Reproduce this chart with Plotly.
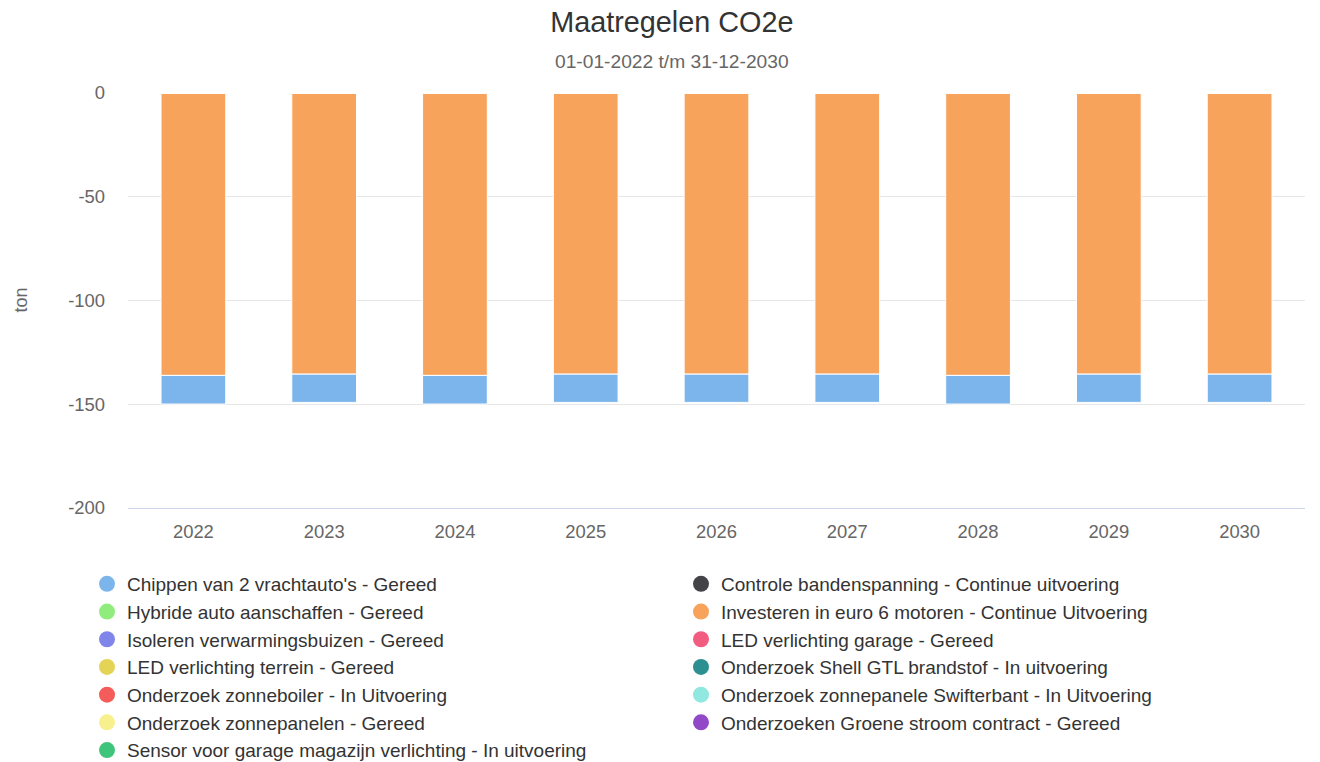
import plotly.graph_objects as go

years = ["2022", "2023", "2024", "2025", "2026", "2027", "2028", "2029", "2030"]

series_names = [
    "Chippen van 2 vrachtauto's - Gereed",
    "Controle bandenspanning - Continue uitvoering",
    "Hybride auto aanschaffen - Gereed",
    "Investeren in euro 6 motoren - Continue Uitvoering",
    "Isoleren verwarmingsbuizen - Gereed",
    "LED verlichting garage - Gereed",
    "LED verlichting terrein - Gereed",
    "Onderzoek Shell GTL brandstof - In uitvoering",
    "Onderzoek zonneboiler - In Uitvoering",
    "Onderzoek zonnepanele Swifterbant - In Uitvoering",
    "Onderzoek zonnepanelen - Gereed",
    "Onderzoeken Groene stroom contract - Gereed",
    "Sensor voor garage magazijn verlichting - In uitvoering",
]
series_colors = [
    "#7cb5ec", "#434348", "#90ed7d", "#f7a35c", "#8085e9", "#f15c80",
    "#e4d354", "#2b908f", "#f45b5b", "#91e8e1", "#f7f08c", "#9149c7", "#3fc47b",
]

chippen = [-13.8, -13.6, -13.8, -13.6, -13.6, -13.6, -13.8, -13.6, -13.6]
investeren = [-136.1, -135.5, -136.1, -135.5, -135.5, -135.5, -136.1, -135.5, -135.5]
zeros = [0, 0, 0, 0, 0, 0, 0, 0, 0]

series_values = [chippen, zeros, zeros, investeren] + [zeros] * 9

y_tick_values = [0, -50, -100, -150, -200]
y_tick_labels = ["0", "-50", "-100", "-150", "-200"]

FONT = "Liberation Sans, Arial, Helvetica, sans-serif"

fig = go.Figure()

# bars: reversed order so first series lies farthest from zero (Highcharts stacking)
for name, col, vals in reversed(list(zip(series_names, series_colors, series_values))):
    fig.add_trace(go.Bar(
        x=years, y=vals, name=name, marker=dict(color=col, line=dict(color="#ffffff", width=1)),
        showlegend=False, legendgroup=name,
    ))

# legend entries with round symbols, split into two columns (row-wise order)
for i, (name, col) in enumerate(zip(series_names, series_colors)):
    fig.add_trace(go.Scatter(
        x=[None], y=[None], mode="markers", name=name, legendgroup=name,
        legend="legend" if i % 2 == 0 else "legend2",
        marker=dict(color=col, size=16, symbol="circle"), legendrank=i + 1,
    ))

legend_common = dict(
    orientation="v", xref="container", yref="container",
    y=1 - 565 / 762, xanchor="left", yanchor="top",
    font=dict(size=19, color="#333333", family=FONT),
    traceorder="grouped", tracegroupgap=0, itemclick=False,
    bgcolor="rgba(0,0,0,0)",
)

fig.update_layout(
    width=1320, height=762,
    barmode="relative", bargap=0.505,
    paper_bgcolor="#ffffff", plot_bgcolor="#ffffff",
    font=dict(family=FONT, color="#333333"),
    margin=dict(l=128, r=15, t=93, b=254, autoexpand=False),
    title=dict(text="Maatregelen CO2e", x=0.509, xanchor="center", xref="container",
               y=1 - 22 / 762, yanchor="middle", yref="container",
               font=dict(size=28.8, color="#333333", family=FONT)),
    legend=dict(x=87 / 1320, **legend_common),
    legend2=dict(x=681 / 1320, **legend_common),
    xaxis=dict(showline=True, linecolor="#ccd6eb", linewidth=1, ticks="",
               tickfont=dict(size=18.4, color="#666666"), ticklabelstandoff=7,
               showgrid=False),
    yaxis=dict(range=[-200, 0], tickvals=y_tick_values, ticktext=y_tick_labels,
               gridcolor="#e6e6e6", gridwidth=1,
               zeroline=False, ticks="", tickfont=dict(size=18.4, color="#666666"),
               ticklabelstandoff=22, showline=False),
    annotations=[
        dict(text="01-01-2022 t/m 31-12-2030", xref="paper", yref="paper",
             x=(672 - 128) / 1177, y=(508 - 62) / 415, xanchor="center", yanchor="middle",
             showarrow=False, font=dict(size=19.2, color="#666666", family=FONT)),
        dict(text="ton", xref="paper", yref="paper", x=(20 - 128) / 1177, y=0.5,
             xanchor="center", yanchor="middle", textangle=-90, showarrow=False,
             font=dict(size=18, color="#666666", family=FONT)),
    ],
)

fig.write_html("out.html", config={"displayModeBar": False},
               post_script="document.body.style.margin='0';")
